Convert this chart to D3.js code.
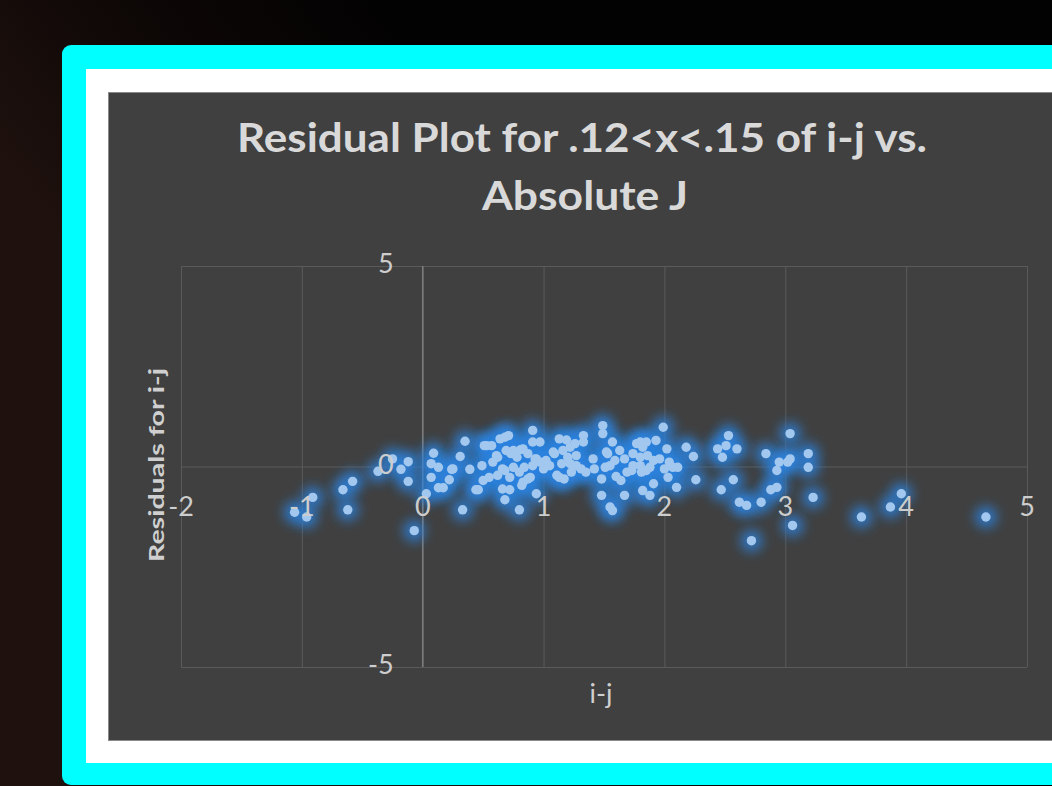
<!DOCTYPE html>
<html>
<head>
<meta charset="utf-8">
<title>Residual Plot</title>
<script src="https://cdn.jsdelivr.net/npm/d3@7"></script>
<style>
html, body {
  margin: 0;
  padding: 0;
  width: 1052px;
  height: 786px;
  overflow: hidden;
  background: #000;
}
svg { display: block; }
.tick-label {
  font-family: Lato, "Open Sans", sans-serif;
  font-size: 27px;
  fill: #cdcdcd;
}
.title {
  font-family: Lato, "Open Sans", sans-serif;
  font-weight: bold;
  font-size: 40px;
  fill: #d9d9d9;
}
.axis-title {
  font-family: Lato, "Open Sans", sans-serif;
  fill: #cfcfcf;
}
.grid line { stroke: #5a5a5a; stroke-width: 1px; }
.grid path { display: none; }
</style>
</head>
<body>
<div id="chart"></div>
<script>
// residuals: i-j (x) and residual (y)
var residX = [
  -1.06, -0.96, -0.91, -0.66, -0.58, -0.62, -0.37, -0.25, -0.18, -0.12,
  -0.12, -0.07, 0.03, 0.09, 0.07, 0.13, 0.07, 0.13, 0.17, 0.22,
  0.25, 0.31, 0.35, 0.39, 0.33, 0.49, 0.51, 0.46, 0.50, 0.53,
  0.57, 0.64, 0.71, 0.61, 0.58, 0.69, 0.73, 0.78, 0.81, 0.87,
  0.91, 0.91, 0.97, 0.93, 0.97, 1.02, 0.84, 0.80, 0.75, 0.68,
  0.62, 0.55, 0.44, 0.66, 0.72, 0.68, 0.82, 0.87, 0.94, 0.80,
  1.00, 1.05, 1.09, 1.13, 1.19, 1.16, 1.22, 1.26, 1.33, 1.33,
  1.20, 1.15, 1.11, 1.17, 1.23, 1.27, 1.31, 1.35, 1.41, 1.42,
  1.49, 1.49, 1.48, 1.48, 1.55, 1.57, 1.57, 1.53, 1.59, 1.63,
  1.67, 1.73, 1.69, 1.60, 1.64, 1.67, 1.77, 1.82, 1.80, 1.86,
  1.91, 1.93, 1.99, 2.02, 1.96, 2.04, 2.07, 2.11, 2.18, 2.24,
  2.03, 2.10, 1.91, 1.82, 1.88, 1.81, 1.85, 2.26, 1.74, 1.51,
  0.68, 0.75, 0.83, 0.62, 0.94, 0.91, 1.08, 1.27, 1.22, 0.66,
  0.72, 0.83, 0.89, 1.13, 1.80, 1.85, 1.52, 1.74, 1.55, 1.80,
  1.88, 2.00, 2.44, 2.48, 2.53, 2.51, 2.60, 2.47, 2.57, 2.62,
  2.68, 2.80, 2.72, 2.84, 2.88, 2.93, 2.93, 2.95, 3.02, 3.04,
  3.04, 3.06, 3.19, 3.19, 3.23, 3.63, 3.87, 3.96, 4.66, 0.24
];
var residY = [
  -1.14, -1.26, -0.77, -0.58, -0.37, -1.08, -0.12, 0.19, -0.07, 0.12,
  -0.37, -1.60, -0.68, 0.33, 0.07, -0.02, -0.27, -0.53, -0.53, -0.33,
  -0.06, 0.25, 0.63, -0.07, -1.08, 0.02, 0.52, -0.58, -0.35, 0.52,
  0.52, 0.69, 0.77, 0.27, 0.11, 0.40, 0.32, 0.23, 0.42, 0.32,
  0.90, 0.61, 0.61, 0.19, 0.11, 0.15, -0.02, -0.14, -0.02, -0.10,
  -0.22, -0.27, -0.58, -0.56, -0.58, -0.83, -0.47, -0.31, -0.68, -1.08,
  -0.06, 0.02, 0.32, 0.69, 0.66, 0.40, 0.48, 0.57, 0.77, 0.61,
  0.23, 0.07, -0.22, -0.31, -0.14, 0.02, -0.06, -0.14, 0.19, -0.06,
  1.02, 0.82, -0.31, -0.72, -1.01, -1.10, 0.61, 0.32, 0.15, 0.40,
  0.19, -0.10, -0.14, -0.25, -0.35, -0.72, 0.57, 0.48, 0.23, 0.27,
  0.15, 0.65, 0.98, 0.44, 0.19, 0.11, -0.02, -0.02, 0.48, 0.25,
  -0.27, -0.52, -0.43, -0.60, -0.72, -0.14, -0.10, -0.33, 0.02, -0.02,
  0.73, 0.40, 0.44, 0.23, 0.19, 0.02, 0.36, 0.27, 0.07, -0.06,
  -0.27, -0.39, -0.27, -0.27, 0.61, 0.61, 0.36, 0.32, 0.02, 0.02,
  -0.02, -0.06, 0.44, 0.23, 0.77, 0.52, 0.44, -0.58, -0.33, -0.89,
  -0.97, -0.89, -1.85, 0.32, -0.58, -0.52, -0.10, 0.11, 0.11, 0.82,
  0.19, -1.47, 0.32, -0.02, -0.77, -1.26, -1.01, -0.68, -1.26, -0.07
];
var xTicks = [-2, -1, 0, 1, 2, 3, 4, 5];
var yTicks = [-5, 0, 5];
var titleLines = ["Residual Plot for .12<x<.15 of i-j vs.", "Absolute J"];
var xTitle = "i-j";
var yTitle = "Residuals for i-j";

var W = 1052, H = 786;
var plot = { left: 181, right: 1027, top: 266, bottom: 667 };

var svg = d3.select("#chart").append("svg")
  .attr("width", W)
  .attr("height", H);

var defs = svg.append("defs");

var bg = defs.append("linearGradient")
  .attr("id", "bg")
  .attr("x1", "0").attr("y1", "0.2")
  .attr("x2", "0.35").attr("y2", "0");
bg.append("stop").attr("offset", "0").attr("stop-color", "#1e110e");
bg.append("stop").attr("offset", "0.5").attr("stop-color", "#0d0706");
bg.append("stop").attr("offset", "1").attr("stop-color", "#030202");

defs.append("filter")
  .attr("id", "glow")
  .attr("x", "-2").attr("y", "-2")
  .attr("width", "5").attr("height", "5")
  .append("feGaussianBlur")
  .attr("stdDeviation", 6);

svg.append("rect")
  .attr("width", W).attr("height", H)
  .attr("fill", "url(#bg)");

// frame: cyan, white, dark chart area
svg.append("rect")
  .attr("x", 62).attr("y", 45)
  .attr("width", 1100).attr("height", 740)
  .attr("rx", 9)
  .attr("fill", "#00ffff");

svg.append("rect")
  .attr("x", 86).attr("y", 69)
  .attr("width", 1100).attr("height", 694)
  .attr("fill", "#ffffff");

svg.append("rect")
  .attr("x", 108.5).attr("y", 92.5)
  .attr("width", 1100).attr("height", 648)
  .attr("fill", "#404040")
  .attr("stroke", "#8a8a8a")
  .attr("stroke-width", 1);

var x = d3.scaleLinear().domain([-2, 5]).range([plot.left, plot.right]);
var y = d3.scaleLinear().domain([-5, 5]).range([plot.bottom, plot.top]);

// gridlines
svg.append("g")
  .attr("class", "grid")
  .attr("transform", "translate(0," + plot.bottom + ")")
  .call(d3.axisBottom(x).tickValues(xTicks).tickSize(-(plot.bottom - plot.top)).tickFormat(""));

svg.append("g")
  .attr("class", "grid")
  .attr("transform", "translate(" + plot.left + ",0)")
  .call(d3.axisLeft(y).tickValues(yTicks).tickSize(-(plot.right - plot.left)).tickFormat(""));

// vertical axis line at x = 0
svg.append("line")
  .attr("x1", x(0)).attr("x2", x(0))
  .attr("y1", plot.top).attr("y2", plot.bottom)
  .attr("stroke", "#7c7c7c")
  .attr("stroke-width", 1.5);

// titles
svg.append("text")
  .attr("class", "title")
  .attr("x", 237).attr("y", 152)
  .attr("textLength", 690)
  .attr("lengthAdjust", "spacingAndGlyphs")
  .text(titleLines[0]);

svg.append("text")
  .attr("class", "title")
  .attr("x", 482).attr("y", 210)
  .attr("textLength", 206)
  .attr("lengthAdjust", "spacingAndGlyphs")
  .text(titleLines[1]);

svg.append("text")
  .attr("class", "axis-title")
  .attr("transform", "translate(164," + 465 + ") rotate(-90)")
  .attr("text-anchor", "middle")
  .attr("font-weight", "bold")
  .attr("font-size", 21)
  .attr("textLength", 194)
  .attr("lengthAdjust", "spacingAndGlyphs")
  .text(yTitle);

svg.append("text")
  .attr("class", "axis-title")
  .attr("x", 601).attr("y", 703)
  .attr("text-anchor", "middle")
  .attr("font-size", 27)
  .text(xTitle);

// points: glow layer then markers
var pts = residX.map(function(v, i) { return [v, residY[i]]; });

svg.append("g")
  .selectAll("circle")
  .data(pts)
  .enter().append("circle")
  .attr("cx", function(d) { return x(d[0]); })
  .attr("cy", function(d) { return y(d[1]); })
  .attr("r", 11)
  .attr("fill", "#2a82e0")
  .attr("fill-opacity", 0.8)
  .attr("filter", "url(#glow)");

svg.append("g")
  .selectAll("circle")
  .data(pts)
  .enter().append("circle")
  .attr("cx", function(d) { return x(d[0]); })
  .attr("cy", function(d) { return y(d[1]); })
  .attr("r", 4.7)
  .attr("fill", "#a3c8ef");

// tick labels on top of the markers
svg.append("g").selectAll("text")
  .data(yTicks)
  .enter().append("text")
  .attr("class", "tick-label")
  .attr("x", x(0) - 29)
  .attr("y", function(d) { return y(d) - 2; })
  .attr("dy", "0.35em")
  .attr("text-anchor", "end")
  .text(function(d) { return d; });

svg.append("g").selectAll("text")
  .data(xTicks)
  .enter().append("text")
  .attr("class", "tick-label")
  .attr("x", function(d) { return x(d); })
  .attr("y", y(-1))
  .attr("dy", "0.35em")
  .attr("text-anchor", "middle")
  .text(function(d) { return d; });
</script>
</body>
</html>
